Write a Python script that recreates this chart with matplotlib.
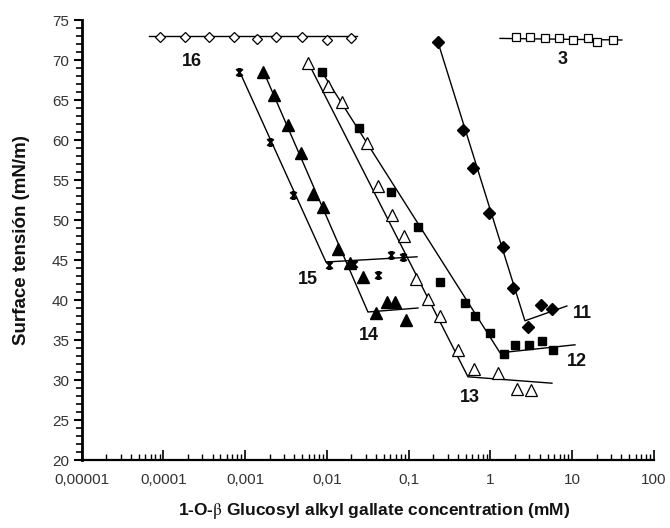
import numpy as np
import matplotlib
matplotlib.use("Agg")
import matplotlib.pyplot as plt
from matplotlib.path import Path
from matplotlib.ticker import FixedLocator, NullFormatter, LogLocator

plt.rcParams['font.family'] = ['Liberation Sans', 'DejaVu Sans']
plt.rcParams['mathtext.fontset'] = 'stix'

# ---------------- data ----------------
# compound 16 (open diamonds)
c16_x = [9.1e-5, 1.84e-4, 3.62e-4, 7.3e-4, 1.40e-3, 2.39e-3, 4.96e-3, 1.0e-2, 1.97e-2]
c16_y = [72.9, 72.9, 72.9, 72.9, 72.6, 72.9, 72.9, 72.5, 72.8]
fit16_x = [6.7e-5, 0.0233]
fit16_y = [72.95, 72.95]

# compound 3 (open squares)
c3_x = [2.05, 3.04, 4.64, 6.9, 10.2, 15.6, 20.1, 31.5]
c3_y = [72.9, 72.9, 72.7, 72.7, 72.5, 72.7, 72.25, 72.5]
fit3_x = [1.31, 40.5]
fit3_y = [72.7, 72.5]

# compound 11 (filled diamonds)
c11_x = [0.228, 0.46, 0.61, 0.96, 1.42, 1.88, 2.88, 4.15, 5.65]
c11_y = [72.25, 61.25, 56.5, 50.9, 46.6, 41.5, 36.6, 39.4, 38.9]
fit11_x = [0.228, 2.64, 8.6]
fit11_y = [72.25, 37.4, 39.25]

# compound 12 (filled squares)
c12_x = [0.0087, 0.0247, 0.0608, 0.130, 0.241, 0.488, 0.647, 0.986, 1.46, 1.99, 2.96, 4.26, 5.81]
c12_y = [68.5, 61.5, 53.5, 49.1, 42.25, 39.6, 38.0, 35.9, 33.25, 34.4, 34.4, 34.9, 33.75]
fit12_x = [0.0087, 1.31, 10.8]
fit12_y = [68.5, 33.4, 34.4]

# compound 13 (open triangles)
c13_x = [0.00588, 0.0103, 0.0153, 0.0309, 0.0421, 0.0624, 0.0875, 0.123, 0.172, 0.241,
         0.400, 0.628, 1.23, 2.11, 3.12]
c13_y = [69.6, 66.75, 64.75, 59.6, 54.25, 50.6, 48.0, 42.6, 40.1, 38.0,
         33.75, 31.4, 30.9, 28.9, 28.75]
fit13_x = [0.00604, 0.531, 5.65]
fit13_y = [69.5, 30.4, 29.6]

# compound 14 (filled triangles)
c14_x = [1.65e-3, 2.25e-3, 3.34e-3, 4.82e-3, 6.76e-3, 8.95e-3, 0.01367, 0.0191, 0.0276,
         0.0398, 0.0543, 0.068, 0.0927]
c14_y = [68.5, 65.6, 61.9, 58.4, 53.25, 51.6, 46.4, 44.6, 42.9,
         38.4, 39.75, 39.75, 37.5]
fit14_x = [1.65e-3, 0.0318, 0.130]
fit14_y = [68.75, 38.5, 39.0]

# compound 15 (stars)
c15_x = [8.4e-4, 2.01e-3, 3.85e-3, 0.0106, 0.0214, 0.0421, 0.0608, 0.0852]
c15_y = [68.5, 59.75, 53.1, 44.4, 44.5, 43.1, 45.6, 45.4]
fit15_x = [8.4e-4, 0.00975, 0.1265]
fit15_y = [68.75, 44.75, 45.4]

# curve labels
label_text = ['16', '3', '15', '14', '13', '12', '11']
label_x = [2.25e-4, 7.7, 5.9e-3, 0.0327, 0.56, 11.4, 13.2]
label_y = [69.75, 70.0, 42.5, 35.6, 27.75, 32.25, 38.25]

xtick_vals = [1e-5, 1e-4, 1e-3, 1e-2, 1e-1, 1, 10, 100]
xtick_labels = ['0,00001', '0,0001', '0,001', '0,01', '0,1', '1', '10', '100']
ytick_vals = list(range(20, 80, 5))

# ---------------- figure ----------------
fig = plt.figure(figsize=(6.7, 5.28), dpi=100)
ax = fig.add_axes([81.5 / 670, 1 - 460 / 528, (654 - 81.5) / 670, 440 / 528])

star = Path([(-1, -1), (1, 1), (-1, 1), (1, -1), (0, -1.25), (0, 1.25), (-0.6, 1.1), (0.6, 1.1), (-0.6, -1.1), (0.6, -1.1)],
            [Path.MOVETO, Path.LINETO, Path.MOVETO, Path.LINETO, Path.MOVETO, Path.LINETO,
             Path.MOVETO, Path.LINETO, Path.MOVETO, Path.LINETO])

lw = 1.0
for fx, fy in [(fit16_x, fit16_y), (fit3_x, fit3_y), (fit11_x, fit11_y), (fit12_x, fit12_y),
               (fit13_x, fit13_y), (fit14_x, fit14_y), (fit15_x, fit15_y)]:
    ax.plot(fx, fy, color='black', lw=lw, zorder=2)

ax.plot(c16_x, c16_y, ls='none', marker='D', ms=5, mfc='white', mec='black', mew=0.9, zorder=3)
ax.plot(c3_x, c3_y, ls='none', marker='s', ms=6, mfc='white', mec='black', mew=0.9, zorder=3)
ax.plot(c11_x, c11_y, ls='none', marker='D', ms=6.5, mfc='black', mec='black', zorder=3)
ax.plot(c12_x, c12_y, ls='none', marker='s', ms=6, mfc='black', mec='black', zorder=3)
ax.plot(c13_x, c13_y, ls='none', marker='^', ms=8, mfc='white', mec='black', mew=0.9, zorder=3)
ax.plot(c14_x, c14_y, ls='none', marker='^', ms=8, mfc='black', mec='black', zorder=3)
ax.plot(c15_x, c15_y, ls='none', marker=star, ms=6, mfc='none', mec='black', mew=1.2, zorder=3)

for t, x, y in zip(label_text, label_x, label_y):
    ax.text(x, y, t, ha='center', va='center', fontsize=13, fontweight='bold', color='#111111')

ax.set_xscale('log')
ax.set_xlim(1e-5, 100)
ax.set_ylim(20, 75)

ax.xaxis.set_major_locator(FixedLocator(xtick_vals))
ax.set_xticklabels(xtick_labels)
ax.xaxis.set_minor_locator(LogLocator(base=10, subs=np.arange(2, 10), numticks=20))
ax.xaxis.set_minor_formatter(NullFormatter())
ax.yaxis.set_major_locator(FixedLocator(ytick_vals))
ax.yaxis.set_minor_locator(FixedLocator(list(range(20, 76))))

ax.tick_params(axis='x', which='major', direction='in', length=7, width=1.2, labelsize=11,
               labelcolor='#333333', pad=9)
ax.tick_params(axis='x', which='minor', direction='in', length=4, width=1.0)
ax.tick_params(axis='y', which='major', direction='out', length=6, width=1.5, labelsize=11,
               labelcolor='#333333', pad=3)
ax.tick_params(axis='y', which='minor', direction='out', length=4, width=1.2)

for s in ['top', 'right']:
    ax.spines[s].set_visible(False)
ax.spines['left'].set_linewidth(2.0)
ax.spines['bottom'].set_linewidth(1.6)

fig.text(22 / 670, 1 - 240 / 528, 'Surface tensión (mN/m)', rotation=90, ha='center', va='center',
         fontsize=13.5, fontweight='bold', color='#111111')
fig.text(374 / 670, 1 - 511 / 528, r'1-O-$\mathrm{\beta}$ Glucosyl alkyl gallate concentration (mM)',
         ha='center', va='center', fontsize=12.5, fontweight='bold', color='#111111')

fig.savefig('out.png', dpi=100)
